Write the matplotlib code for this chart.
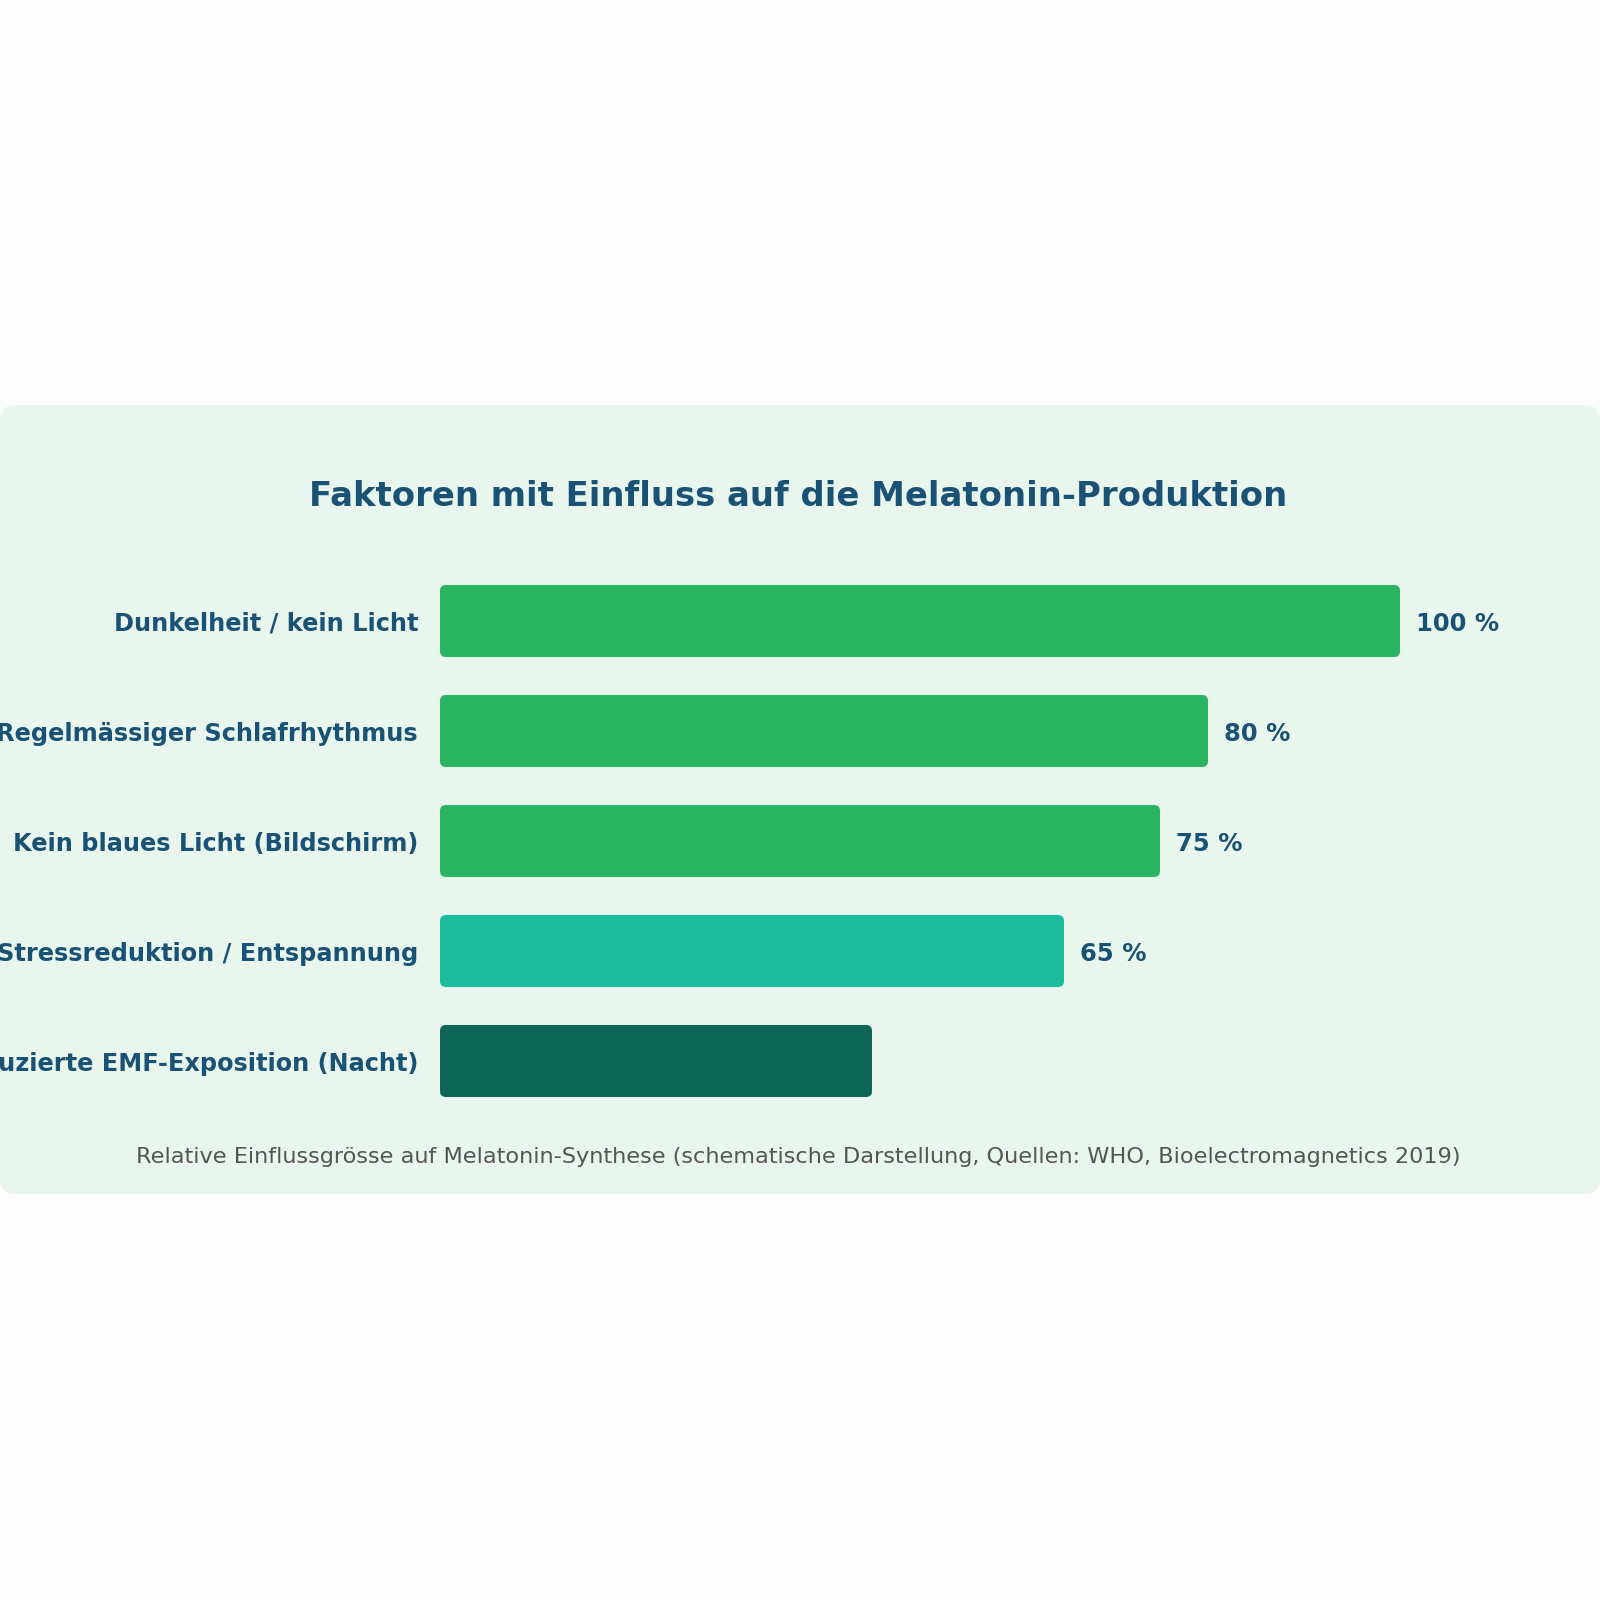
import matplotlib.pyplot as plt
from matplotlib.patches import FancyBboxPatch

# Data
categories = [
    "Dunkelheit / kein Licht",
    "Regelmässiger Schlafrhythmus",
    "Kein blaues Licht (Bildschirm)",
    "Stressreduktion / Entspannung",
    "Reduzierte EMF-Exposition (Nacht)",
]
values = [100, 80, 75, 65, 45]
value_labels = ["100 %", "80 %", "75 %", "65 %", ""]
bar_colors = ["#29b463", "#29b463", "#29b463", "#1abc9c", "#0e6655"]

title = "Faktoren mit Einfluss auf die Melatonin-Produktion"
footer = ("Relative Einflussgrösse auf Melatonin-Synthese "
          "(schematische Darstellung, Quellen: WHO, Bioelectromagnetics 2019)")

text_color = "#1a5276"
plt.rcParams["font.family"] = ["DejaVu Sans"]

W = 1600
fig = plt.figure(figsize=(16, 16), dpi=100)
fig.patch.set_facecolor("#fdfdfd")

# card background
panel = FancyBboxPatch((0, 1 - 1194 / W), 1.0, (1194 - 405) / W,
                       boxstyle="round,pad=0,rounding_size=0.01",
                       transform=fig.transFigure, facecolor="#e8f6ee",
                       edgecolor="none", zorder=-5)
fig.patches.append(panel)

fig.text(798 / W, 1 - 497 / W, title, ha="center", va="center",
         fontsize=24.4, fontweight="bold", color=text_color)
fig.text(798 / W, 1 - 1157 / W, footer, ha="center", va="center",
         fontsize=16.1, color="#555555")

# bar area: x 440..1400 px, rows 110 px apart
ax = fig.add_axes([440 / W, 1 - 1116 / W, 960 / W, 550 / W], zorder=2)
ax.set_facecolor("none")
ax.set_xlim(0, 100)
ax.set_ylim(len(categories) - 0.5, -0.5)

bar_h = 0.655
px_x = 960 / 100
px_y = 110
r = 6 / px_x
for i, (v, c) in enumerate(zip(values, bar_colors)):
    p = FancyBboxPatch((0, i - bar_h / 2), v, bar_h,
                       boxstyle=f"round,pad=0,rounding_size={r}",
                       mutation_aspect=px_x / px_y,
                       facecolor=c, edgecolor="none", clip_on=False)
    ax.add_patch(p)
    if value_labels[i]:
        ax.annotate(value_labels[i], (v, i), xytext=(11.5, -2),
                    textcoords="offset points", ha="left", va="center",
                    fontsize=17.5, fontweight="bold", color=text_color)

ax.set_yticks(range(len(categories)))
ax.set_yticklabels(categories, fontsize=17.3, fontweight="bold", color=text_color)
ax.tick_params(axis="y", length=0, pad=15.8)
ax.set_xticks([])
for s in ax.spines.values():
    s.set_visible(False)

fig.savefig("out.png", dpi=100, facecolor=fig.get_facecolor())
